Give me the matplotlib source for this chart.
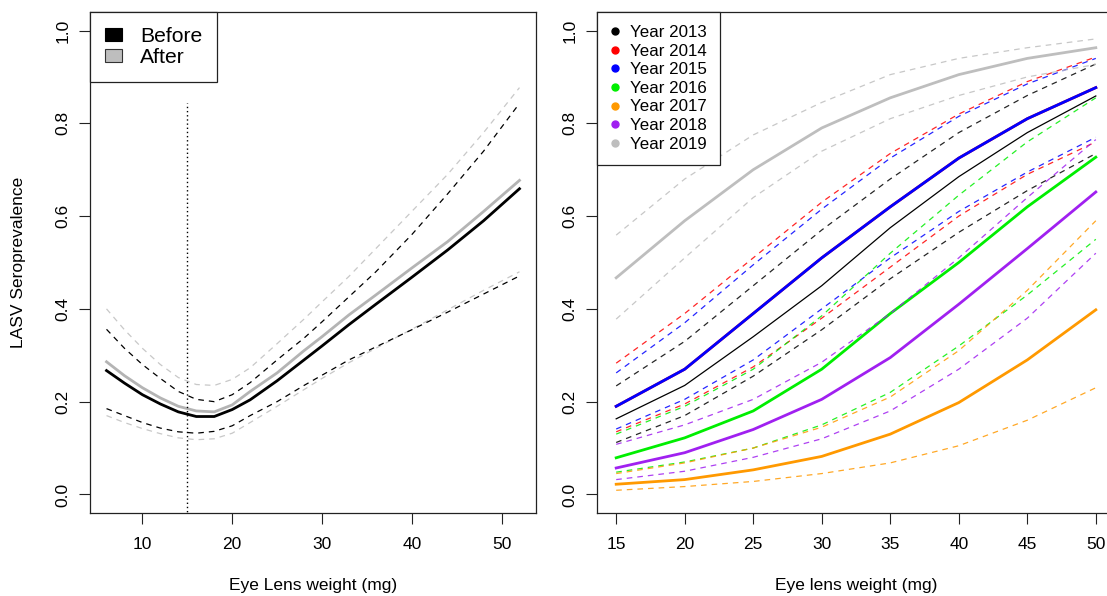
import matplotlib
matplotlib.use("Agg")
import matplotlib.pyplot as plt
from matplotlib.patches import Patch
from matplotlib.lines import Line2D

plt.rcParams["font.family"] = ["Liberation Sans", "DejaVu Sans"]

# left panel: before / after, fit with upper and lower bounds
lens_left = [6, 8, 10, 12, 14, 16, 18, 20, 22, 25, 28, 30, 33, 36, 40, 44, 48, 52]
before_fit = [0.267, 0.24, 0.215, 0.195, 0.178, 0.168, 0.168, 0.183, 0.204, 0.245, 0.29, 0.32,
              0.366, 0.41, 0.468, 0.527, 0.59, 0.659]
before_hi = [0.356, 0.315, 0.28, 0.25, 0.222, 0.205, 0.2, 0.215, 0.241, 0.29, 0.337, 0.372,
             0.426, 0.48, 0.56, 0.648, 0.74, 0.843]
before_lo = [0.185, 0.17, 0.155, 0.143, 0.135, 0.132, 0.136, 0.148, 0.17, 0.2, 0.235, 0.257,
             0.29, 0.318, 0.355, 0.393, 0.432, 0.471]
after_fit = [0.286, 0.256, 0.23, 0.208, 0.19, 0.18, 0.178, 0.193, 0.222, 0.262, 0.31, 0.34,
             0.387, 0.43, 0.488, 0.545, 0.61, 0.677]
after_hi = [0.40, 0.355, 0.315, 0.28, 0.252, 0.237, 0.235, 0.248, 0.273, 0.325, 0.378, 0.415,
            0.47, 0.53, 0.61, 0.69, 0.78, 0.877]
after_lo = [0.17, 0.155, 0.142, 0.131, 0.122, 0.118, 0.12, 0.132, 0.155, 0.19, 0.226, 0.25,
            0.284, 0.315, 0.356, 0.398, 0.44, 0.48]
cutoff_weight = 15
cutoff_top = 0.843

# right panel: one fitted curve per year, with bounds
lens_right = [15, 20, 25, 30, 35, 40, 45, 50]
years = ["Year 2013", "Year 2014", "Year 2015", "Year 2016", "Year 2017", "Year 2018", "Year 2019"]
year_colors = ["black", "#FF0000", "#0000FF", "#00EE00", "#FF9900", "#A020F0", "#BEBEBE"]
fit_2013 = [0.163, 0.235, 0.34, 0.45, 0.575, 0.685, 0.78, 0.859]
lo_2013 = [0.112, 0.17, 0.255, 0.355, 0.465, 0.565, 0.655, 0.735]
hi_2013 = [0.234, 0.33, 0.45, 0.57, 0.68, 0.78, 0.86, 0.928]
fit_2014 = [0.19, 0.27, 0.39, 0.51, 0.62, 0.725, 0.81, 0.877]
lo_2014 = [0.135, 0.195, 0.275, 0.38, 0.49, 0.6, 0.69, 0.76]
hi_2014 = [0.283, 0.39, 0.51, 0.63, 0.735, 0.82, 0.89, 0.943]
fit_2015 = [0.19, 0.27, 0.39, 0.51, 0.62, 0.725, 0.81, 0.877]
lo_2015 = [0.141, 0.205, 0.29, 0.40, 0.51, 0.61, 0.695, 0.77]
hi_2015 = [0.262, 0.37, 0.495, 0.615, 0.725, 0.815, 0.885, 0.94]
fit_2016 = [0.079, 0.122, 0.18, 0.27, 0.39, 0.5, 0.62, 0.727]
lo_2016 = [0.048, 0.07, 0.1, 0.15, 0.22, 0.32, 0.43, 0.55]
hi_2016 = [0.13, 0.19, 0.27, 0.385, 0.52, 0.645, 0.76, 0.855]
fit_2017 = [0.022, 0.032, 0.053, 0.082, 0.13, 0.198, 0.29, 0.398]
lo_2017 = [0.009, 0.017, 0.028, 0.045, 0.068, 0.105, 0.16, 0.23]
hi_2017 = [0.045, 0.068, 0.1, 0.145, 0.21, 0.31, 0.44, 0.59]
fit_2018 = [0.057, 0.09, 0.14, 0.205, 0.295, 0.41, 0.53, 0.652]
lo_2018 = [0.032, 0.05, 0.08, 0.12, 0.18, 0.27, 0.38, 0.52]
hi_2018 = [0.108, 0.15, 0.205, 0.285, 0.39, 0.51, 0.64, 0.765]
fit_2019 = [0.467, 0.59, 0.70, 0.79, 0.855, 0.905, 0.94, 0.963]
lo_2019 = [0.378, 0.51, 0.64, 0.74, 0.81, 0.86, 0.9, 0.927]
hi_2019 = [0.559, 0.68, 0.775, 0.845, 0.905, 0.94, 0.963, 0.982]

fits = [fit_2013, fit_2014, fit_2015, fit_2016, fit_2017, fit_2018, fit_2019]
los = [lo_2013, lo_2014, lo_2015, lo_2016, lo_2017, lo_2018, lo_2019]
his = [hi_2013, hi_2014, hi_2015, hi_2016, hi_2017, hi_2018, hi_2019]
fit_widths = [0.9, 2.0, 2.0, 2.0, 2.0, 2.0, 2.0]

DASH = (4.5, 4)
W, H = 1107, 596
fig = plt.figure(figsize=(W / 100, H / 100), dpi=100)
ax1 = fig.add_axes([90 / W, (H - 513) / H, 446 / W, 501 / H])
ax2 = fig.add_axes([597 / W, (H - 513) / H, 518 / W, 501 / H])


def style_axis(ax, xlim, xticks):
    ax.set_xlim(*xlim)
    ax.set_ylim(-0.04, 1.04)
    ax.set_xticks(xticks)
    ax.set_yticks([0, 0.2, 0.4, 0.6, 0.8, 1.0])
    ax.set_yticklabels(["0.0", "0.2", "0.4", "0.6", "0.8", "1.0"], rotation=90, va="center")
    ax.tick_params(length=8, width=0.8, labelsize=12.5, color="#222222")
    ax.tick_params(axis="x", pad=9)
    ax.tick_params(axis="y", pad=6)
    for s in ax.spines.values():
        s.set_linewidth(0.9)
        s.set_color("#222222")


# ---- left panel
ax = ax1
ax.plot(lens_left, after_hi, color="#C8C8C8", lw=0.9, dashes=DASH)
ax.plot(lens_left, after_lo, color="#C8C8C8", lw=0.9, dashes=DASH)
ax.plot(lens_left, before_hi, color="black", lw=0.9, dashes=DASH)
ax.plot(lens_left, before_lo, color="black", lw=0.9, dashes=DASH)
ax.plot(lens_left, after_fit, color="#B4B4B4", lw=2.0)
ax.plot(lens_left, before_fit, color="black", lw=2.0)
ax.plot([cutoff_weight, cutoff_weight], [-0.1, cutoff_top], color="black", lw=1.0, dashes=(1, 2))
style_axis(ax, (4.16, 53.84), [10, 20, 30, 40, 50])
ax.set_xlabel("Eye Lens weight (mg)", fontsize=12.5)
ax.xaxis.set_label_coords(0.5, -0.144)
ax.xaxis.label.set_va("center")
ax.set_ylabel("LASV Seroprevalence", fontsize=12.5)
ax.yaxis.set_label_coords(-0.161, 0.5)
ax.yaxis.label.set_va("center")
handles = [Patch(facecolor="black", edgecolor="black", lw=0.8),
           Patch(facecolor="#BEBEBE", edgecolor="#333333", lw=0.8)]
leg = ax.legend(handles, ["Before", "After"], loc="upper left", bbox_to_anchor=(0, 1),
                borderaxespad=0, fancybox=False, framealpha=1, edgecolor="#222222",
                fontsize=15.2, handlelength=0.8, handleheight=0.6, handletextpad=0.85,
                labelspacing=0.08, borderpad=0.72)
leg.get_frame().set_linewidth(0.9)

# ---- right panel
ax = ax2
for name, c, f, lo, hi, lw in zip(years, year_colors, fits, los, his, fit_widths):
    ax.plot(lens_right, hi, color=c, lw=0.9, dashes=DASH, alpha=0.85)
    ax.plot(lens_right, lo, color=c, lw=0.9, dashes=DASH, alpha=0.85)
    ax.plot(lens_right, f, color=c, lw=lw)
style_axis(ax, (13.6, 51.4), [15, 20, 25, 30, 35, 40, 45, 50])
ax.set_xlabel("Eye lens weight (mg)", fontsize=12.5)
ax.xaxis.set_label_coords(0.5, -0.144)
ax.xaxis.label.set_va("center")
handles = [Line2D([], [], ls="none", marker="o", markersize=5, color=c) for c in year_colors]
leg = ax.legend(handles, years, loc="upper left", bbox_to_anchor=(0, 1),
                borderaxespad=0, fancybox=False, framealpha=1, edgecolor="#222222",
                fontsize=12.2, handlelength=0.6, handletextpad=0.55,
                labelspacing=0.21, borderpad=0.78)
leg.get_frame().set_linewidth(0.9)

fig.savefig("out.png", dpi=100)
